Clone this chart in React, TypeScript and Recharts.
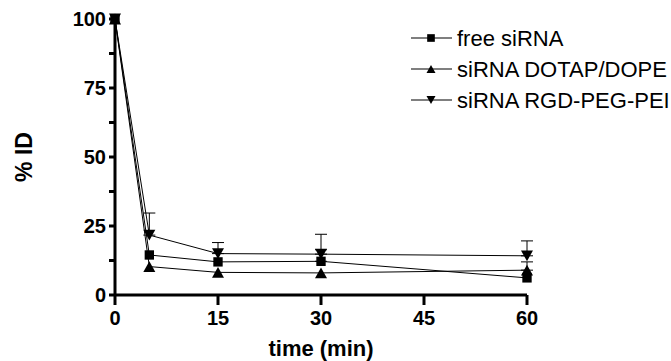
import { ComposedChart, ErrorBar, Legend, Line, XAxis, YAxis } from "recharts";

const FONT = '"Liberation Sans", Arial, sans-serif';

// time points (min)
const TIMES = [0, 5, 15, 30, 60];
const X_TICKS = [0, 15, 30, 45, 60];
const Y_TICKS = [0, 12.5, 25, 37.5, 50, 62.5, 75, 87.5, 100];

// % ID per series
const FREE = [100, 14.5, 12, 12.2, 6.2];
const DOTAP = [100, 10.3, 8.2, 8, 9];
const RGD = [100, 21.7, 15, 14.8, 14.2];

// upper SD only (null = not drawn)
const FREE_SD = [null, null, null, 4.2, null];
const DOTAP_SD = [null, null, null, null, 3];
const RGD_SD = [null, 8, 4, 7.2, 5.4];

const SERIES = [
  { key: "free", name: "free siRNA", marker: "square" },
  { key: "dotap", name: "siRNA DOTAP/DOPE", marker: "up" },
  { key: "rgd", name: "siRNA RGD-PEG-PEI", marker: "down" },
] as const;

type MarkerKind = "square" | "up" | "down";

const toErr = (v: number | null) => (v === null ? undefined : [0, v]);

const rows = TIMES.map((t, i) => ({
  t,
  free: FREE[i],
  dotap: DOTAP[i],
  rgd: RGD[i],
  freeErr: toErr(FREE_SD[i]),
  dotapErr: toErr(DOTAP_SD[i]),
  rgdErr: toErr(RGD_SD[i]),
}));

function Marker({ cx, cy, kind, size }: { cx: number; cy: number; kind: MarkerKind; size: number }) {
  if (cx == null || cy == null) return null;
  const h = size / 2;
  if (kind === "square") {
    return <rect x={cx - h * 0.85} y={cy - h * 0.85} width={size * 0.85} height={size * 0.85} fill="#000" />;
  }
  if (kind === "up") {
    return <polygon points={`${cx - h},${cy + h * 0.9} ${cx + h},${cy + h * 0.9} ${cx},${cy - h * 0.9}`} fill="#000" />;
  }
  return <polygon points={`${cx - h},${cy - h * 0.9} ${cx + h},${cy - h * 0.9} ${cx},${cy + h * 0.9}`} fill="#000" />;
}

function LegendBox() {
  return (
    <svg width={266} height={100} style={{ display: "block", overflow: "visible" }}>
      {SERIES.map((s, i) => {
        const y = 14 + i * 31;
        return (
          <g key={s.key}>
            <line x1={6} x2={47} y1={y} y2={y} stroke="#000" strokeWidth={1.2} />
            <Marker cx={26} cy={y} kind={s.marker} size={9} />
            <text x={52} y={y + 8} fontSize={22} fontFamily={FONT} fill="#000">
              {s.name}
            </text>
          </g>
        );
      })}
    </svg>
  );
}

export default function App() {
  return (
    <div style={{ position: "absolute", left: 0, top: 0, background: "#fff" }}>
      <ComposedChart
        width={671}
        height={361}
        data={rows}
        margin={{ top: 19, right: 144, left: 0, bottom: 0 }}
      >
        <XAxis
          dataKey="t"
          type="number"
          domain={[0, 60]}
          ticks={X_TICKS}
          height={66}
          tickSize={10}
          tickMargin={6}
          axisLine={{ stroke: "#000", strokeWidth: 3 }}
          tickLine={{ stroke: "#000", strokeWidth: 3 }}
          tick={{ fill: "#000", fontSize: 20, fontWeight: "bold", fontFamily: FONT }}
          label={{
            content: ({ viewBox }: any) => (
              <text
                x={viewBox.x + viewBox.width / 2}
                y={viewBox.y + 61}
                textAnchor="middle"
                fontSize={22}
                fontWeight="bold"
                fontFamily={FONT}
                fill="#000"
              >
                time (min)
              </text>
            ),
          }}
        />
        <YAxis
          type="number"
          domain={[0, 100]}
          ticks={Y_TICKS}
          width={115}
          tickSize={6}
          tickMargin={3}
          interval={0}
          tickFormatter={(v: number) => (v % 25 === 0 ? String(v) : "")}
          axisLine={{ stroke: "#000", strokeWidth: 3 }}
          tickLine={{ stroke: "#000", strokeWidth: 3 }}
          tick={{ fill: "#000", fontSize: 20, fontWeight: "bold", fontFamily: FONT }}
          label={{
            content: ({ viewBox }: any) => {
              const x = viewBox.x + 32;
              const y = viewBox.y + viewBox.height / 2;
              return (
                <text
                  x={x}
                  y={y}
                  transform={`rotate(-90, ${x}, ${y})`}
                  textAnchor="middle"
                  fontSize={23}
                  fontWeight="bold"
                  fontFamily={FONT}
                  fill="#000"
                >
                  % ID
                </text>
              );
            },
          }}
        />
        <Legend
          layout="horizontal"
          verticalAlign="middle"
          align="center"
          content={() => <LegendBox />}
          wrapperStyle={{ left: 405, top: 24, width: 266, height: 100 }}
        />
        {SERIES.map((s) => (
          <Line
            key={s.key}
            type="linear"
            dataKey={s.key}
            name={s.name}
            stroke="#000"
            strokeWidth={1}
            isAnimationActive={false}
            activeDot={false}
            dot={(p: any) => (
              <Marker key={`${s.key}-${p.index}`} cx={p.cx} cy={p.cy} kind={s.marker} size={s.marker === "square" ? 11 : 12} />
            )}
          >
            <ErrorBar dataKey={`${s.key}Err`} direction="y" width={6} stroke="#000" strokeWidth={1} isAnimationActive={false} />
          </Line>
        ))}
      </ComposedChart>
    </div>
  );
}
